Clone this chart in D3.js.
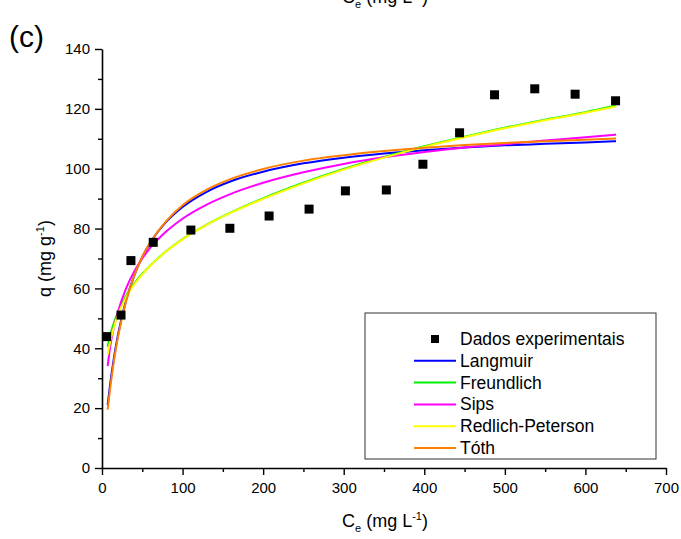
<!DOCTYPE html>
<html>
<head>
<meta charset="utf-8">
<script src="https://cdn.jsdelivr.net/npm/d3@7"></script>
<style>
  body { margin: 0; background: #fff; }
  text { font-family: "Liberation Sans", Arial, sans-serif; fill: #000; }
</style>
</head>
<body>
<div id="chart"></div>
<script>
// experimental points
const ceExp = [5.8, 23.6, 35.9, 63.6, 110.3, 158.7, 207.4, 257.0, 302.1, 352.9, 398.3, 443.8, 487.2, 537.1, 587.2, 637.4];
const qExp  = [43.9, 51.1, 69.3, 75.4, 79.5, 80.1, 84.2, 86.5, 92.6, 92.9, 101.5, 112.0, 124.7, 126.7, 124.9, 122.7];

// model curves
const curveCe = [7, 10, 15, 20, 30, 40, 50, 60, 80, 100, 130, 160, 200, 250, 300, 350, 400, 450, 500, 550, 600, 638];
const langmuir = [21.0, 27.8, 37.1, 44.7, 56.1, 64.3, 70.5, 75.3, 82.3, 87.2, 92.3, 95.8, 99.0, 101.8, 103.7, 105.1, 106.2, 107.1, 107.8, 108.3, 108.8, 109.2];
const freundlich = [40.5, 44.2, 48.7, 52.2, 57.6, 61.6, 64.9, 67.7, 72.5, 76.5, 81.3, 85.4, 90.1, 95.3, 99.9, 103.9, 107.5, 110.7, 113.7, 116.4, 118.9, 121.1];
const sips = [34.0, 40.3, 47.2, 52.4, 60.1, 65.7, 70.0, 73.6, 79.1, 83.3, 88.0, 91.6, 95.3, 98.8, 101.6, 103.8, 105.6, 107.1, 108.2, 109.4, 110.5, 111.4];
const redlichPeterson = [37.8, 42.0, 47.3, 51.3, 57.1, 61.3, 64.7, 67.6, 72.4, 76.4, 81.2, 85.3, 89.9, 95.1, 99.7, 103.7, 107.3, 110.5, 113.5, 116.2, 118.7, 120.8];
const toth = [19.5, 26.3, 36.1, 44.0, 55.8, 64.3, 70.6, 75.4, 82.6, 87.8, 93.0, 96.6, 99.9, 102.7, 104.5, 105.9, 107.0, 107.9, 108.6, 109.2, 109.7, 110.1];

const seriesNames = ["Langmuir", "Freundlich", "Sips", "Redlich-Peterson", "Tóth"];
const seriesValues = [langmuir, freundlich, sips, redlichPeterson, toth];
const seriesColors = ["#0000ff", "#00ee00", "#ff00ff", "#ffff00", "#ff8000"];
const pointLabel = "Dados experimentais";

const xTicks = [0, 100, 200, 300, 400, 500, 600, 700];
const xMinor = [50, 150, 250, 350, 450, 550, 650];
const yTicks = [0, 20, 40, 60, 80, 100, 120, 140];
const yMinor = [10, 30, 50, 70, 90, 110, 130];

const width = 681, height = 539;
const margin = {top: 49, left: 102, right: 15, bottom: 71};

const svg = d3.select("#chart").append("svg")
  .attr("width", width)
  .attr("height", height);

const x = d3.scaleLinear().domain([0, 700]).range([margin.left, 666]);
const y = d3.scaleLinear().domain([0, 140]).range([height - margin.bottom, margin.top]);

// x axis
svg.append("g")
  .attr("transform", `translate(0, ${y(0)})`)
  .call(d3.axisBottom(x).tickValues(xTicks).tickSize(7).tickSizeOuter(0).tickPadding(7));
svg.append("g")
  .attr("transform", `translate(0, ${y(0)})`)
  .call(d3.axisBottom(x).tickValues(xMinor).tickSize(4).tickFormat(""))
  .select(".domain").remove();

// y axis
svg.append("g")
  .attr("transform", `translate(${x(0)}, 0)`)
  .call(d3.axisLeft(y).tickValues(yTicks).tickSize(7).tickSizeOuter(0).tickPadding(5));
svg.append("g")
  .attr("transform", `translate(${x(0)}, 0)`)
  .call(d3.axisLeft(y).tickValues(yMinor).tickSize(4).tickFormat(""))
  .select(".domain").remove();

svg.selectAll(".domain").attr("stroke", "#000").attr("stroke-width", 1.6);
svg.selectAll(".tick line").attr("stroke", "#000").attr("stroke-width", 1.4);
svg.selectAll(".tick text").style("font-size", "15px").attr("fill", "#000");

// axis titles
function ceTitle(sel) {
  sel.append("tspan").text("C");
  sel.append("tspan").text("e").attr("font-size", "11px").attr("dy", 5);
  sel.append("tspan").text(" (mg L").attr("dy", -5);
  sel.append("tspan").text("-1").attr("font-size", "11px").attr("dy", -7);
  sel.append("tspan").text(")").attr("dy", 7);
}
svg.append("text")
  .attr("x", 385).attr("y", 527)
  .attr("text-anchor", "middle")
  .style("font-size", "18px")
  .call(ceTitle);

// leftover title of the panel above, cut by the top edge
svg.append("text")
  .attr("x", 385).attr("y", 3)
  .attr("text-anchor", "middle")
  .style("font-size", "18px")
  .call(ceTitle);

const yTitle = svg.append("text")
  .attr("transform", `translate(51, ${(y(0) + y(140)) / 2}) rotate(-90)`)
  .attr("text-anchor", "middle")
  .style("font-size", "18px");
yTitle.append("tspan").text("q (mg g");
yTitle.append("tspan").text("-1").attr("font-size", "11px").attr("dy", -7);
yTitle.append("tspan").text(")").attr("dy", 7);

svg.append("text")
  .attr("x", 9).attr("y", 47)
  .style("font-size", "30px")
  .text("(c)");

// model lines
const line = d3.line()
  .x((d, i) => x(curveCe[i]))
  .y(d => y(d))
  .curve(d3.curveMonotoneX);

svg.append("g").selectAll("path")
  .data(seriesValues)
  .join("path")
  .attr("fill", "none")
  .attr("stroke", (d, i) => seriesColors[i])
  .attr("stroke-width", 2)
  .attr("d", line);

// experimental points
const sq = 9;
svg.append("g").selectAll("rect")
  .data(ceExp)
  .join("rect")
  .attr("x", d => x(d) - sq / 2)
  .attr("y", (d, i) => y(qExp[i]) - sq / 2)
  .attr("width", sq)
  .attr("height", sq)
  .attr("fill", "#000");

// legend
const legend = svg.append("g").attr("transform", "translate(365, 313)");
legend.append("rect")
  .attr("width", 291).attr("height", 146)
  .attr("fill", "#fff")
  .attr("stroke", "#333").attr("stroke-width", 1);

const rowH = 21.8, row0 = 26;
legend.append("rect")
  .attr("x", 70 - 4).attr("y", row0 - 4)
  .attr("width", 8).attr("height", 8)
  .attr("fill", "#000");
legend.append("text")
  .attr("x", 95).attr("y", row0 + 6)
  .style("font-size", "17.5px")
  .text(pointLabel);

seriesNames.forEach((name, i) => {
  const yy = row0 + rowH * (i + 1);
  legend.append("line")
    .attr("x1", 49).attr("x2", 91)
    .attr("y1", yy).attr("y2", yy)
    .attr("stroke", seriesColors[i])
    .attr("stroke-width", 2);
  legend.append("text")
    .attr("x", 95).attr("y", yy + 6)
    .style("font-size", "17.5px")
    .text(name);
});
</script>
</body>
</html>
